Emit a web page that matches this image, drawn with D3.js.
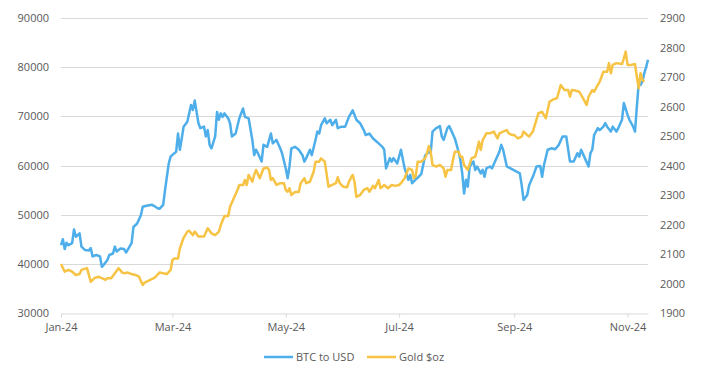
<!DOCTYPE html>
<html>
<head>
<meta charset="utf-8">
<script src="https://cdn.jsdelivr.net/npm/d3@7"></script>
<style>
  body { margin: 0; background: #fff; }
  svg text { font-family: "Open Sans", "Noto Sans", sans-serif; }
</style>
</head>
<body>
<div id="chart"></div>
<script>
// BTC daily close
var btcDates = ["2024-01-01","2024-01-02","2024-01-03","2024-01-04","2024-01-05","2024-01-07","2024-01-08","2024-01-09","2024-01-11","2024-01-12","2024-01-14","2024-01-16","2024-01-17","2024-01-18","2024-01-20","2024-01-22","2024-01-23","2024-01-24","2024-01-26","2024-01-27","2024-01-29","2024-01-30","2024-01-31","2024-02-02","2024-02-04","2024-02-05","2024-02-08","2024-02-09","2024-02-11","2024-02-13","2024-02-14","2024-02-16","2024-02-19","2024-02-20","2024-02-22","2024-02-23","2024-02-25","2024-02-26","2024-02-28","2024-02-29","2024-03-02","2024-03-03","2024-03-04","2024-03-05","2024-03-06","2024-03-07","2024-03-09","2024-03-11","2024-03-12","2024-03-13","2024-03-15","2024-03-16","2024-03-18","2024-03-19","2024-03-20","2024-03-21","2024-03-22","2024-03-24","2024-03-25","2024-03-26","2024-03-27","2024-03-28","2024-03-29","2024-03-31","2024-04-01","2024-04-02","2024-04-04","2024-04-06","2024-04-08","2024-04-09","2024-04-11","2024-04-13","2024-04-14","2024-04-15","2024-04-16","2024-04-18","2024-04-19","2024-04-21","2024-04-23","2024-04-24","2024-04-26","2024-04-28","2024-04-29","2024-05-01","2024-05-02","2024-05-03","2024-05-04","2024-05-06","2024-05-08","2024-05-10","2024-05-11","2024-05-12","2024-05-14","2024-05-15","2024-05-17","2024-05-18","2024-05-19","2024-05-20","2024-05-22","2024-05-23","2024-05-25","2024-05-26","2024-05-28","2024-05-29","2024-05-31","2024-06-02","2024-06-04","2024-06-06","2024-06-07","2024-06-08","2024-06-10","2024-06-12","2024-06-13","2024-06-15","2024-06-17","2024-06-20","2024-06-22","2024-06-23","2024-06-24","2024-06-26","2024-06-27","2024-06-28","2024-06-30","2024-07-02","2024-07-04","2024-07-06","2024-07-07","2024-07-08","2024-07-10","2024-07-11","2024-07-13","2024-07-15","2024-07-17","2024-07-18","2024-07-19","2024-07-21","2024-07-23","2024-07-24","2024-07-25","2024-07-27","2024-07-28","2024-07-29","2024-07-31","2024-08-01","2024-08-02","2024-08-03","2024-08-04","2024-08-05","2024-08-06","2024-08-07","2024-08-08","2024-08-10","2024-08-11","2024-08-12","2024-08-14","2024-08-15","2024-08-16","2024-08-17","2024-08-19","2024-08-20","2024-08-22","2024-08-24","2024-08-25","2024-08-26","2024-08-28","2024-08-30","2024-09-01","2024-09-02","2024-09-04","2024-09-05","2024-09-06","2024-09-08","2024-09-09","2024-09-11","2024-09-13","2024-09-15","2024-09-16","2024-09-17","2024-09-19","2024-09-21","2024-09-23","2024-09-25","2024-09-27","2024-09-29","2024-10-01","2024-10-03","2024-10-05","2024-10-06","2024-10-07","2024-10-09","2024-10-11","2024-10-12","2024-10-13","2024-10-14","2024-10-16","2024-10-17","2024-10-19","2024-10-20","2024-10-21","2024-10-23","2024-10-24","2024-10-26","2024-10-27","2024-10-29","2024-10-30","2024-11-01","2024-11-02","2024-11-04","2024-11-05","2024-11-06","2024-11-07","2024-11-08","2024-11-09","2024-11-10","2024-11-11","2024-11-12"]
var btcValues = [43800,45000,43000,44300,43800,44200,47000,45500,46200,43500,42800,42700,43200,41500,41800,41500,39400,39800,40800,41800,42100,43500,42500,43100,43000,42300,44200,47500,48200,49900,51600,51800,52000,51800,51300,51200,52000,55000,60400,61800,62500,62800,66500,63200,65500,67900,68900,72300,71300,73200,68600,67600,67900,65900,67200,64200,63500,65900,70900,69300,70600,69900,70600,69600,68600,65900,66500,69600,71600,69900,69600,65200,62100,63200,62500,60800,64200,63800,66500,64500,65200,63500,62500,59400,57400,59800,63500,63800,63200,62100,60800,61500,63200,62100,65200,66900,66500,68200,69600,68600,69300,68200,69300,67600,67900,67900,69900,71200,70300,69300,68600,67200,66200,66500,65500,64500,63800,63200,59400,61500,60800,61500,60400,63200,59400,57100,58100,56400,57200,57500,58300,62000,62800,62500,66900,67600,68000,65900,65200,67600,68000,67200,65500,64200,62800,61100,58400,54300,57100,55700,59800,60800,59100,59800,58400,59100,57700,59400,59800,59400,61100,62800,64200,63200,59800,59400,59000,58800,58400,56000,53000,54000,56000,57700,59800,59900,57700,60100,63200,63500,63300,64200,65900,65900,60800,60800,62500,61800,63200,61500,59800,62500,63200,66200,67600,67200,67900,68600,67900,66900,67900,66900,67600,69300,72700,70300,69300,67900,66900,72000,76700,76400,77100,78800,80000,81500]

// Gold $/oz
var goldDates = ["2024-01-01","2024-01-03","2024-01-05","2024-01-07","2024-01-09","2024-01-11","2024-01-12","2024-01-15","2024-01-17","2024-01-19","2024-01-21","2024-01-23","2024-01-25","2024-01-26","2024-01-28","2024-01-30","2024-02-01","2024-02-03","2024-02-04","2024-02-06","2024-02-08","2024-02-10","2024-02-12","2024-02-14","2024-02-15","2024-02-18","2024-02-20","2024-02-21","2024-02-23","2024-02-25","2024-02-27","2024-02-29","2024-03-01","2024-03-02","2024-03-04","2024-03-05","2024-03-07","2024-03-09","2024-03-10","2024-03-12","2024-03-13","2024-03-15","2024-03-17","2024-03-18","2024-03-20","2024-03-22","2024-03-24","2024-03-26","2024-03-27","2024-03-29","2024-03-31","2024-04-01","2024-04-03","2024-04-05","2024-04-06","2024-04-08","2024-04-09","2024-04-10","2024-04-11","2024-04-13","2024-04-14","2024-04-15","2024-04-17","2024-04-19","2024-04-21","2024-04-22","2024-04-23","2024-04-24","2024-04-26","2024-04-28","2024-04-30","2024-05-01","2024-05-02","2024-05-03","2024-05-04","2024-05-06","2024-05-08","2024-05-09","2024-05-11","2024-05-12","2024-05-14","2024-05-16","2024-05-17","2024-05-19","2024-05-20","2024-05-22","2024-05-24","2024-05-26","2024-05-28","2024-05-29","2024-05-30","2024-06-01","2024-06-03","2024-06-04","2024-06-06","2024-06-07","2024-06-08","2024-06-10","2024-06-12","2024-06-14","2024-06-15","2024-06-17","2024-06-18","2024-06-20","2024-06-21","2024-06-23","2024-06-25","2024-06-27","2024-06-29","2024-07-01","2024-07-02","2024-07-04","2024-07-06","2024-07-08","2024-07-09","2024-07-10","2024-07-11","2024-07-13","2024-07-15","2024-07-16","2024-07-17","2024-07-18","2024-07-19","2024-07-21","2024-07-23","2024-07-25","2024-07-26","2024-07-27","2024-07-29","2024-07-30","2024-07-31","2024-08-02","2024-08-03","2024-08-04","2024-08-05","2024-08-07","2024-08-09","2024-08-11","2024-08-12","2024-08-13","2024-08-14","2024-08-15","2024-08-17","2024-08-19","2024-08-21","2024-08-22","2024-08-23","2024-08-24","2024-08-26","2024-08-28","2024-08-29","2024-08-31","2024-09-01","2024-09-03","2024-09-05","2024-09-06","2024-09-08","2024-09-09","2024-09-11","2024-09-13","2024-09-14","2024-09-16","2024-09-17","2024-09-18","2024-09-20","2024-09-22","2024-09-24","2024-09-25","2024-09-26","2024-09-28","2024-09-30","2024-10-01","2024-10-02","2024-10-04","2024-10-06","2024-10-08","2024-10-10","2024-10-11","2024-10-13","2024-10-14","2024-10-15","2024-10-17","2024-10-19","2024-10-21","2024-10-22","2024-10-23","2024-10-24","2024-10-26","2024-10-29","2024-10-30","2024-10-31","2024-11-01","2024-11-03","2024-11-05","2024-11-06","2024-11-07","2024-11-08","2024-11-09","2024-11-10"]
var goldValues = [2066,2040,2046,2040,2029,2032,2046,2052,2006,2018,2023,2018,2012,2018,2018,2035,2052,2037,2035,2037,2032,2029,2023,1995,2003,2012,2018,2023,2037,2035,2032,2046,2080,2085,2085,2119,2155,2176,2179,2164,2176,2159,2159,2159,2187,2170,2164,2176,2198,2229,2229,2260,2289,2317,2334,2334,2351,2334,2368,2345,2368,2385,2357,2390,2393,2385,2351,2357,2334,2340,2340,2317,2311,2323,2300,2310,2310,2340,2357,2340,2345,2379,2413,2413,2424,2413,2328,2334,2340,2360,2340,2328,2326,2345,2368,2345,2294,2300,2317,2323,2311,2331,2323,2351,2323,2334,2323,2334,2331,2334,2340,2357,2390,2385,2357,2365,2413,2413,2424,2441,2466,2447,2402,2396,2402,2390,2362,2385,2385,2419,2447,2447,2430,2430,2402,2385,2424,2430,2453,2481,2453,2486,2509,2509,2515,2503,2492,2509,2515,2520,2509,2503,2503,2492,2498,2515,2503,2498,2515,2556,2577,2582,2571,2560,2616,2624,2628,2650,2673,2656,2656,2633,2656,2654,2650,2628,2605,2633,2656,2650,2662,2684,2718,2718,2747,2713,2741,2747,2744,2763,2786,2741,2741,2744,2701,2662,2713,2690,2684]

var btcTicks = [30000, 40000, 50000, 60000, 70000, 80000, 90000]
var goldTicks = [1900, 2000, 2100, 2200, 2300, 2400, 2500, 2600, 2700, 2800, 2900]
var seriesNames = ["BTC to USD", "Gold $oz"]
var seriesColors = ["#4DAEEA", "#F6C344"]

var width = 703, height = 372
var margin = {top: 18, right: 55, bottom: 59, left: 61}
var parse = d3.timeParse("%Y-%m-%d")

var btc = btcDates.map(function(d, i){ return {date: parse(d), value: btcValues[i]} })
var gold = goldDates.map(function(d, i){ return {date: parse(d), value: goldValues[i]} })

var svg = d3.select("#chart").append("svg")
    .attr("width", width)
    .attr("height", height)

var x = d3.scaleTime()
    .domain([parse("2024-01-01"), parse("2024-11-12")])
    .range([margin.left, width - margin.right])

var yLeft = d3.scaleLinear().domain([30000, 90000]).range([height - margin.bottom, margin.top])
var yRight = d3.scaleLinear().domain([1900, 2900]).range([height - margin.bottom, margin.top])

// gridlines
svg.append("g")
    .selectAll("line")
    .data(btcTicks.slice(1))
    .enter()
    .append("line")
    .attr("x1", margin.left)
    .attr("x2", width - margin.right)
    .attr("y1", d => Math.round(yLeft(d)) + 0.5)
    .attr("y2", d => Math.round(yLeft(d)) + 0.5)
    .attr("stroke", "#d9d9d9")
    .attr("stroke-width", 1)

// x axis
var xAxis = svg.append("g")
    .attr("transform", "translate(0," + (Math.round(yLeft(30000)) + 0.5) + ")")
    .call(d3.axisBottom(x)
        .ticks(d3.timeMonth.every(2))
        .tickFormat(d3.timeFormat("%b-%y"))
        .tickSizeInner(4)
        .tickSizeOuter(0)
        .tickPadding(6))
xAxis.select(".domain").attr("stroke", "#d9d9d9")
xAxis.selectAll(".tick line").attr("stroke", "#d9d9d9")
xAxis.selectAll("text").attr("fill", "#595959").attr("font-size", 11)
    .style("font-family", "'Open Sans', 'Noto Sans', sans-serif")

// left axis
var leftAxis = svg.append("g")
    .attr("transform", "translate(" + (margin.left - 12) + ",0)")
    .call(d3.axisLeft(yLeft).tickValues(btcTicks).tickFormat(d3.format("d")).tickSize(0).tickPadding(0))
leftAxis.select(".domain").remove()
leftAxis.selectAll("text").attr("fill", "#595959").attr("font-size", 11)
    .style("font-family", "'Open Sans', 'Noto Sans', sans-serif")

// right axis
var rightAxis = svg.append("g")
    .attr("transform", "translate(" + (width - margin.right + 12) + ",0)")
    .call(d3.axisRight(yRight).tickValues(goldTicks).tickFormat(d3.format("d")).tickSize(0).tickPadding(0))
rightAxis.select(".domain").remove()
rightAxis.selectAll("text").attr("fill", "#595959").attr("font-size", 11)
    .style("font-family", "'Open Sans', 'Noto Sans', sans-serif")

// lines
var btcLine = d3.line().x(d => x(d.date)).y(d => yLeft(d.value))
var goldLine = d3.line().x(d => x(d.date)).y(d => yRight(d.value))

svg.append("path")
    .datum(btc)
    .attr("fill", "none")
    .attr("stroke", seriesColors[0])
    .attr("stroke-width", 2.5)
    .attr("stroke-linejoin", "round")
    .attr("d", btcLine)

svg.append("path")
    .datum(gold)
    .attr("fill", "none")
    .attr("stroke", seriesColors[1])
    .attr("stroke-width", 2.5)
    .attr("stroke-linejoin", "round")
    .attr("d", goldLine)

// legend
var legendX = [264, 367]
var legend = svg.append("g")
    .selectAll("g")
    .data(seriesNames)
    .enter()
    .append("g")
    .attr("transform", (d, i) => "translate(" + legendX[i] + ",357)")
legend.append("line")
    .attr("x1", 0).attr("x2", 29)
    .attr("stroke", (d, i) => seriesColors[i])
    .attr("stroke-width", 2.5)
legend.append("text")
    .attr("x", 32)
    .attr("dy", "0.35em")
    .attr("fill", "#595959")
    .attr("font-size", 11)
    .text(d => d)
</script>
</body>
</html>
